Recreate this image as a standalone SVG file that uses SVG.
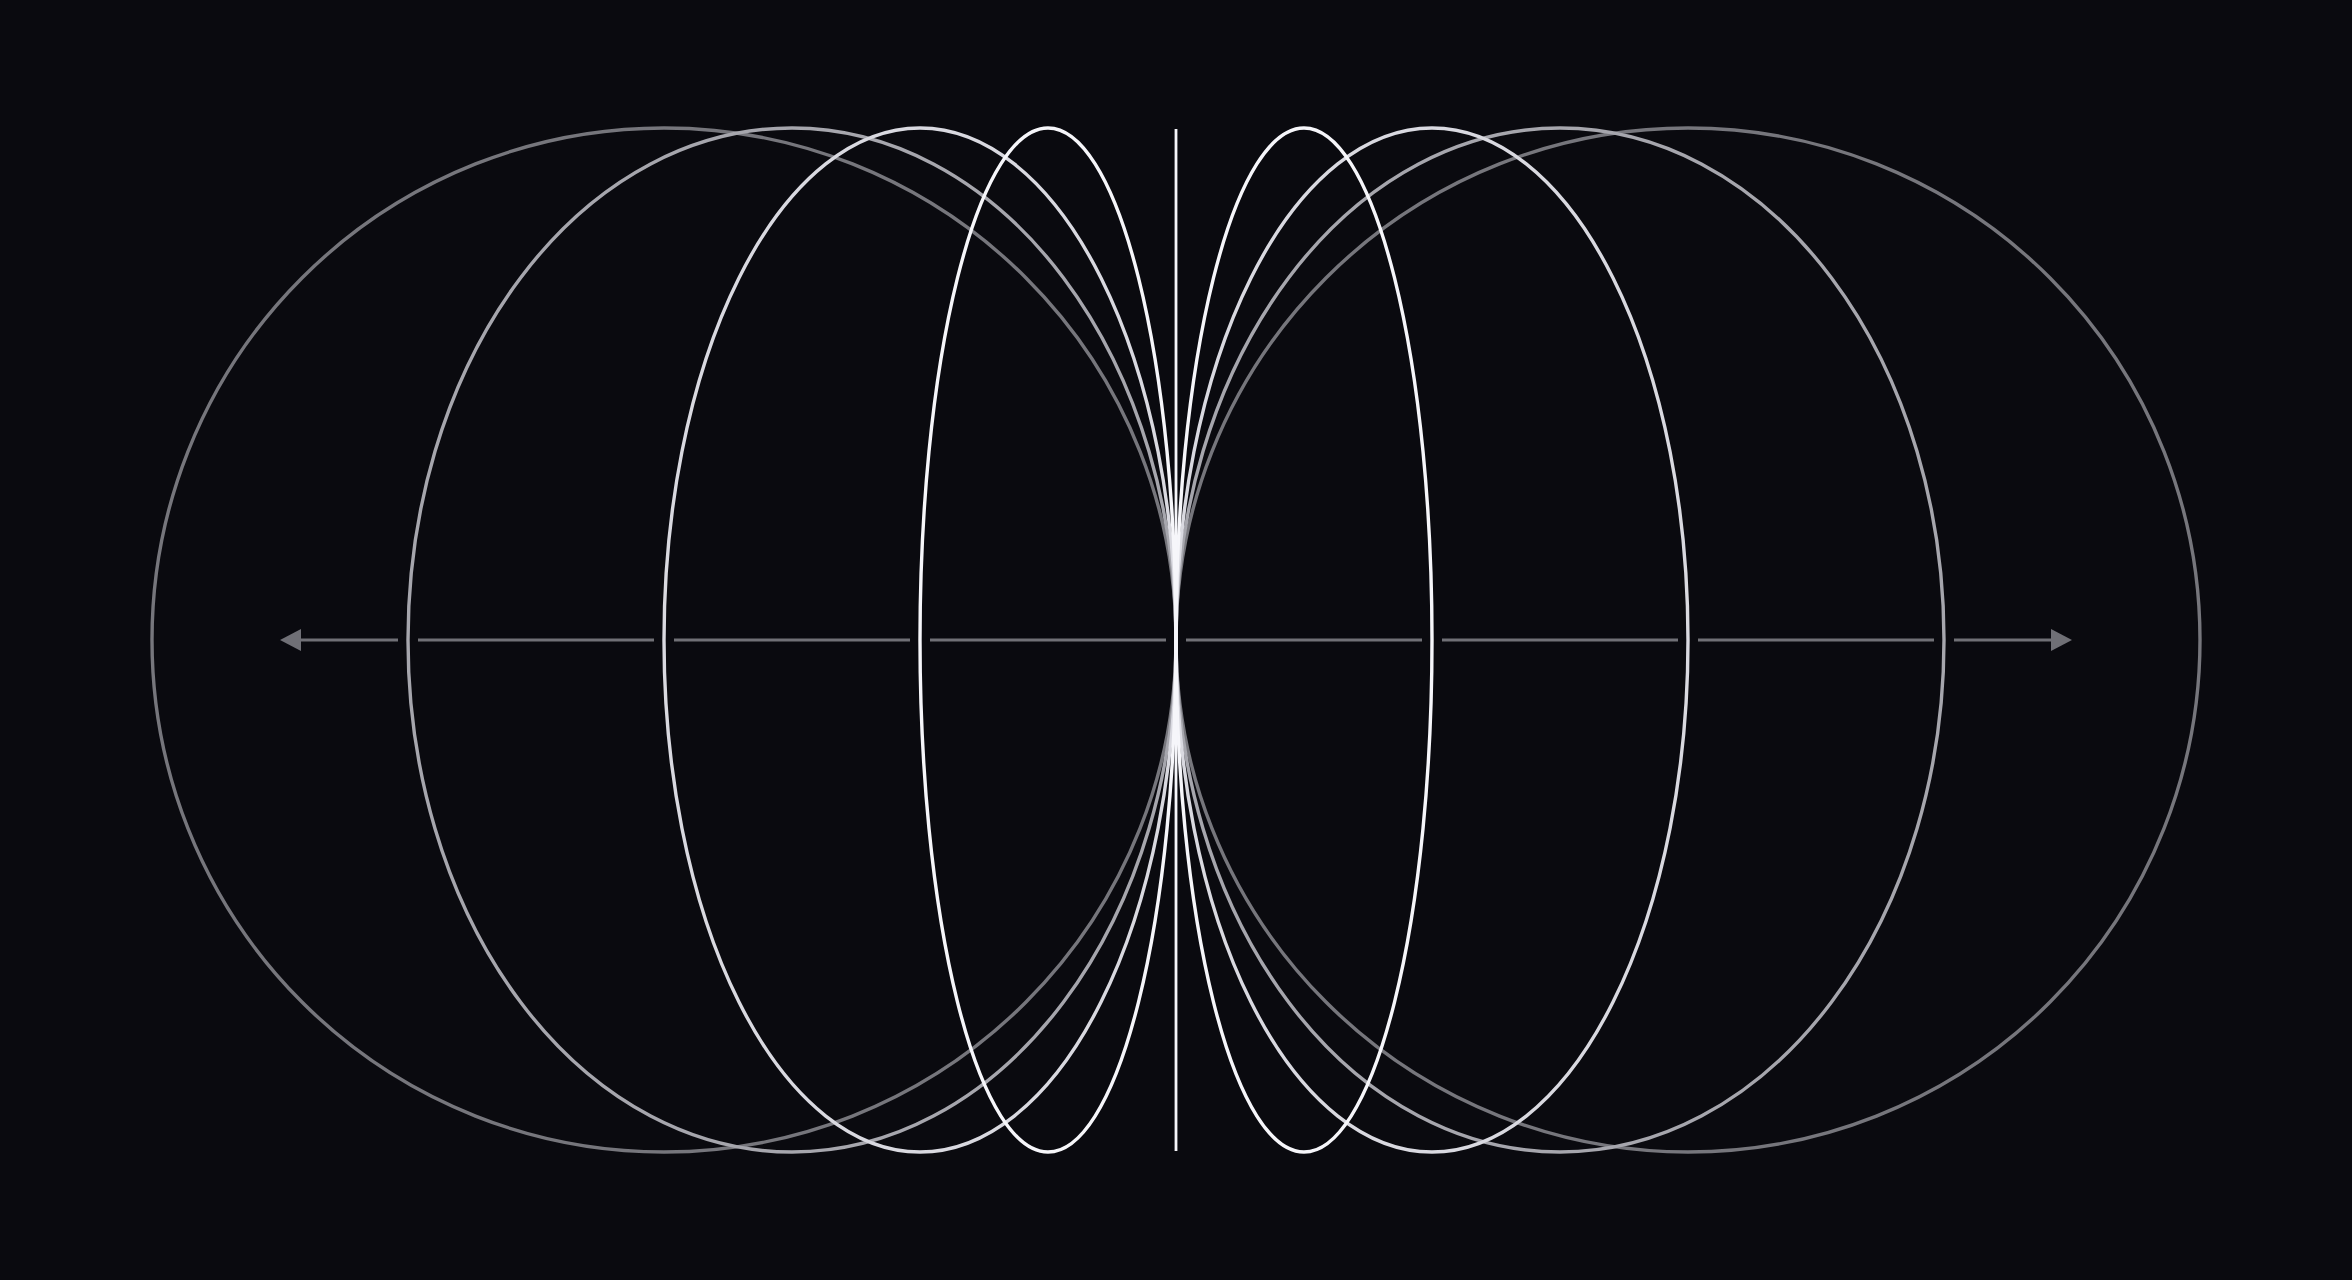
<svg xmlns="http://www.w3.org/2000/svg" width="2352" height="1280" viewBox="0 0 2352 1280">
  <defs>
    <style>
      .e { fill: none; stroke-width: 3.4; }
      .e1 { stroke: #76767c; }
      .e2 { stroke: #a6a6ad; }
      .e3 { stroke: #d9d9e0; }
      .e4 { stroke: #f6f6fa; }
      .axis { stroke: #707076; stroke-width: 3; fill: none; }
      .head { fill: #707076; }
    </style>
  </defs>
  <rect width="2352" height="1280" fill="#0a0a0f"/>
  <g id="connectors">
    <path class="axis" d="M298 640 H398 M418 640 H654 M674 640 H910 M930 640 H1166 M1186 640 H1422 M1442 640 H1678 M1698 640 H1934 M1954 640 H2054"/>
    <polygon class="head" points="280,640 301,629 301,651"/>
    <polygon class="head" points="2072,640 2051,629 2051,651"/>
  </g>
  <g id="ellipses-outer">
    <ellipse class="e e1" cx="664" cy="640" rx="512" ry="512"/>
    <ellipse class="e e1" cx="1688" cy="640" rx="512" ry="512"/>
  </g>
  <g id="ellipses-2">
    <ellipse class="e e2" cx="792" cy="640" rx="384" ry="512"/>
    <ellipse class="e e2" cx="1560" cy="640" rx="384" ry="512"/>
  </g>
  <g id="ellipses-3">
    <ellipse class="e e3" cx="920" cy="640" rx="256" ry="512"/>
    <ellipse class="e e3" cx="1432" cy="640" rx="256" ry="512"/>
  </g>
  <g id="ellipses-inner">
    <ellipse class="e e4" cx="1048" cy="640" rx="128" ry="512"/>
    <ellipse class="e e4" cx="1304" cy="640" rx="128" ry="512"/>
  </g>
  <g id="center-line">
    <line x1="1176" y1="129" x2="1176" y2="1151" stroke="#f6f6fa" stroke-width="2.8"/>
  </g>
</svg>
